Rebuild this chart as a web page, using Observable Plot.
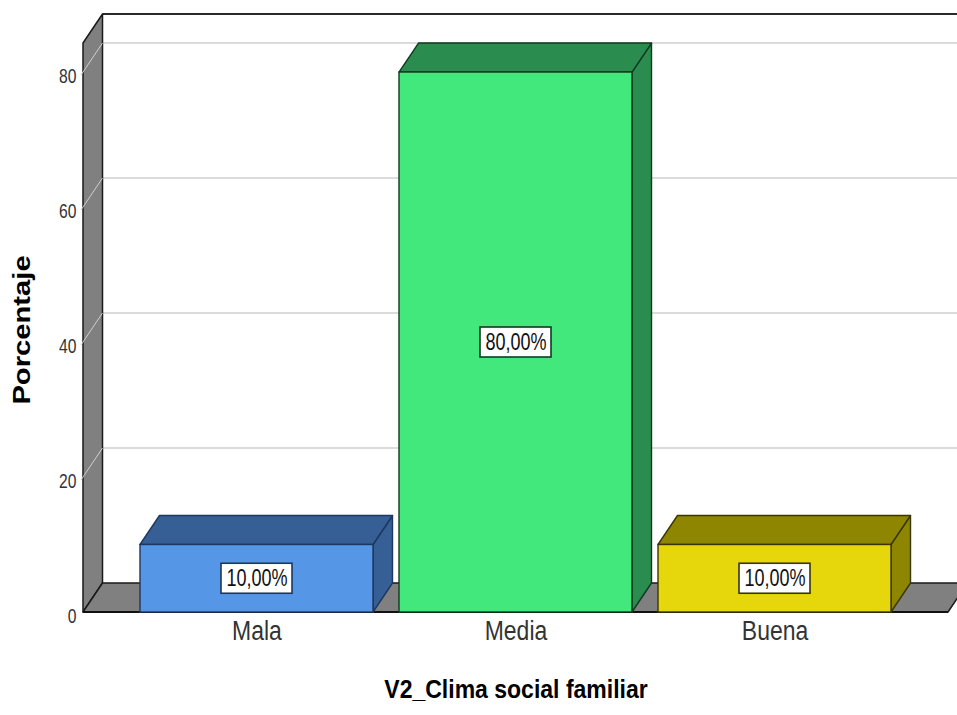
<!DOCTYPE html>
<html>
<head>
<meta charset="utf-8">
<script src="https://cdn.jsdelivr.net/npm/d3@7"></script>
<script src="https://cdn.jsdelivr.net/npm/@observablehq/plot@0.6"></script>
<style>
  body { margin: 0; background: #fff; }
  #chart svg text { font-family: "Liberation Sans", Arial, sans-serif; }
</style>
</head>
<body>
<div id="chart"></div>
<script>
// ---- data ----
const categories = ["Mala", "Media", "Buena"];
const percentages = [10, 80, 10];
const valueLabels = ["10,00%", "80,00%", "10,00%"];
const yTicks = [0, 20, 40, 60, 80];
const xTitle = "V2_Clima social familiar";
const yTitle = "Porcentaje";
const frontColors = ["#5596e6", "#42e87c", "#e6d60c"];
const shadeColors = ["#365f96", "#2a8c4e", "#8e8600"];
const edgeColors = ["#1d3760", "#103a1f", "#3a3600"];

// ---- style constants (3D depth, pixel offsets) ----
const DX = 19.5, DY = -29;
const yMax = 84.3;

const data = categories.map((c, i) => ({
  category: c, value: percentages[i], label: valueLabels[i],
  front: frontColors[i], shade: shadeColors[i], edge: edgeColors[i]
}));

function bandwidthOf(scales) {
  if (scales.x.bandwidth) return scales.x.bandwidth();
  return (scales.x(categories[1]) - scales.x(categories[0])) * 0.9;
}

// walls, floor and gridlines of the 3D frame
function frame3d(index, scales, values, dims) {
  const x0 = dims.marginLeft, x1 = dims.width - dims.marginRight;
  const yT = scales.y(yMax), y0 = scales.y(0);
  const g = d3.create("svg:g");
  g.append("rect").attr("x", x0 + DX).attr("y", yT + DY)
    .attr("width", x1 - x0 + 60).attr("height", y0 - yT).attr("fill", "#fff");
  for (const t of yTicks.slice(1)) {
    g.append("line").attr("x1", x0 + DX).attr("x2", x1 + DX + 60)
      .attr("y1", scales.y(t) + DY).attr("y2", scales.y(t) + DY)
      .attr("stroke", "#cfcfcf").attr("stroke-width", 1.6);
  }
  g.append("line").attr("x1", x0 + DX).attr("x2", x1 + DX + 60)
    .attr("y1", yT + DY).attr("y2", yT + DY)
    .attr("stroke", "#2a2a2a").attr("stroke-width", 2.2);
  g.append("polygon")
    .attr("points", [[x0, yT], [x0 + DX, yT + DY], [x0 + DX, y0 + DY], [x0, y0]].map(p => p.join(",")).join(" "))
    .attr("fill", "#808080").attr("stroke", "#1a1a1a").attr("stroke-width", 1.5).attr("stroke-linejoin", "round");
  g.append("polygon")
    .attr("points", [[x0, y0], [x1, y0], [x1 + DX, y0 + DY], [x0 + DX, y0 + DY]].map(p => p.join(",")).join(" "))
    .attr("fill", "#808080").attr("stroke", "#1a1a1a").attr("stroke-width", 1.5).attr("stroke-linejoin", "round");
  g.append("line").attr("x1", x0).attr("x2", x1).attr("y1", y0).attr("y2", y0)
    .attr("stroke", "#111").attr("stroke-width", 2.2);
  for (const t of yTicks.slice(1)) {
    g.append("line").attr("x1", x0 - 2).attr("x2", x0 + DX)
      .attr("y1", scales.y(t) + 3).attr("y2", scales.y(t) + DY)
      .attr("stroke", "#cfcfcf").attr("stroke-width", 1);
  }
  return g.node();
}

// top and side faces of each bar
function barFaces(index, scales, values, dims) {
  const bw = bandwidthOf(scales);
  const y0 = scales.y(0);
  const g = d3.create("svg:g");
  for (const d of data) {
    const xl = scales.x(d.category), xr = xl + bw, yt = scales.y(d.value);
    g.append("polygon")
      .attr("points", [[xr, y0], [xr, yt], [xr + DX, yt + DY], [xr + DX, y0 + DY]].map(p => p.join(",")).join(" "))
      .attr("fill", d.shade).attr("stroke", d.edge).attr("stroke-width", 1.4).attr("stroke-linejoin", "round");
    g.append("polygon")
      .attr("points", [[xl, yt], [xr, yt], [xr + DX, yt + DY], [xl + DX, yt + DY]].map(p => p.join(",")).join(" "))
      .attr("fill", d.shade).attr("stroke", d.edge).attr("stroke-width", 1.4).attr("stroke-linejoin", "round");
  }
  return g.node();
}

// white boxes behind the value labels
function labelBoxes(index, scales, values, dims) {
  const bw = bandwidthOf(scales);
  const g = d3.create("svg:g");
  const w = 71, h = 30;
  for (const d of data) {
    const cx = scales.x(d.category) + bw / 2, cy = scales.y(d.value / 2);
    g.append("rect").attr("x", cx - w / 2).attr("y", cy - h / 2).attr("width", w).attr("height", h)
      .attr("fill", "#fff").attr("stroke", d.edge).attr("stroke-width", 1.6);
  }
  return g.node();
}

const plot = Plot.plot({
  width: 957,
  height: 715,
  marginLeft: 83,
  marginRight: 9,
  marginTop: 43,
  marginBottom: 103,
  x: { domain: categories, paddingInner: 0.1, paddingOuter: 0.2135, axis: null },
  y: { domain: [0, yMax], axis: null },
  style: { background: "#fff", fontFamily: "Liberation Sans, Arial, sans-serif", overflow: "visible" },
  marks: [
    frame3d,
    barFaces,
    Plot.barY(data, { x: "category", y: "value", fill: "front", stroke: "edge", strokeWidth: 1.4 }),
    labelBoxes,
    Plot.text(data, { x: "category", y: d => d.value / 2, text: "label", fontSize: 24, fill: "#111" }),
    Plot.text(yTicks, { y: d => d, text: d => String(d), frameAnchor: "left", textAnchor: "end", dx: -7, dy: 4, fontSize: 20, fill: "#333" }),
    Plot.text(categories, { x: d => d, text: d => d, frameAnchor: "bottom", dy: 27, fontSize: 27, fill: "#333" }),
    Plot.text([xTitle], { text: d => d, frameAnchor: "bottom", dy: 85, fontSize: 25, fontWeight: "bold", fill: "#000" }),
    Plot.text([yTitle], { text: d => d, frameAnchor: "left", textAnchor: "middle", dx: -61, dy: 2, rotate: -90, fontSize: 23, fontWeight: "bold", fill: "#000" })
  ]
});

document.getElementById("chart").appendChild(plot);

// mimic the horizontally squeezed lettering of the reference
const factors = new Map();
yTicks.forEach(t => factors.set(String(t), 0.78));
categories.forEach(c => factors.set(c, 0.85));
valueLabels.forEach(v => factors.set(v, 0.75));
factors.set(xTitle, 0.92);
plot.querySelectorAll("text").forEach(t => {
  const content = t.textContent;
  if (content === yTitle) {
    // stretch the rotated title along its own direction
    const tr = t.getAttribute("transform") || "";
    t.setAttribute("transform", tr + " scale(1.27,1)");
    return;
  }
  const f = factors.get(content);
  if (f) {
    const len = t.getComputedTextLength();
    t.setAttribute("textLength", (len * f).toFixed(1));
    t.setAttribute("lengthAdjust", "spacingAndGlyphs");
  }
});
</script>
</body>
</html>
